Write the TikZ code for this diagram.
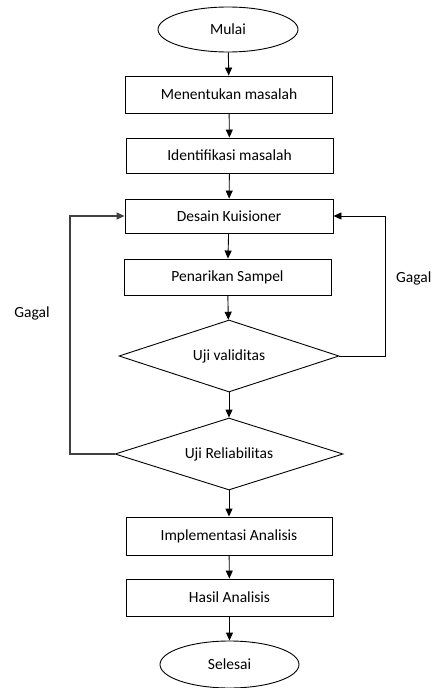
\documentclass[tikz,border=0pt]{standalone}
\usepackage{fontspec}
\setmainfont{Carlito}
\usetikzlibrary{shapes.geometric,arrows.meta}
\begin{document}
\begin{tikzpicture}[x=1pt,y=-1pt,
  font=\fontsize{15.5}{18}\selectfont,
  every node/.style={inner sep=0pt},
  procbox/.style={draw,line width=0.9pt,rectangle,minimum width=207pt},
  termbox/.style={draw,line width=0.9pt,ellipse,minimum width=140pt,minimum height=45pt},
  decbox/.style={draw,line width=0.9pt,diamond,shape aspect=3,minimum width=224pt,minimum height=72pt},
  flow/.style={line width=0.9pt,-{Triangle[length=8pt,width=7pt]}},
  loopline/.style={line width=1.1pt,draw=black!75,-{Triangle[length=8pt,width=7pt]}}]
\useasboundingbox (0,0) rectangle (432,688);
\node[termbox] (mulai) at (228,29.5) {Mulai};
\node[procbox,minimum height=37pt] (b1) at (229,94.5) {Menentukan masalah};
\node[procbox,minimum height=35pt] (b2) at (229.5,155.5) {Identifikasi masalah};
\node[procbox,minimum height=34pt,minimum width=208pt] (b3) at (229,216) {Desain Kuisioner};
\node[procbox,minimum height=36pt] (b4) at (227.5,277) {Penarikan Sampel};
\node[decbox,minimum width=220pt] (d1) at (229,356) {Uji validitas};
\node[decbox,minimum width=228pt] (d2) at (229,454) {Uji Reliabilitas};
\node[procbox,minimum height=38pt,minimum width=206pt] (b5) at (229,536) {Implementasi Analisis};
\node[procbox,minimum height=37pt] (b6) at (229.5,597.5) {Hasil Analisis};
\node[termbox,minimum width=139pt,minimum height=47pt] (selesai) at (229.5,664.5) {Selesai};
\node (gl) at (32,313) {Gagal};
\node[anchor=west] (gr) at (396,278) {Gagal};
\coordinate (lc1) at (70,454);
\coordinate (lc2) at (70,216);
\coordinate (rc1) at (385,356);
\coordinate (rc2) at (385,216);
\draw[flow] (mulai) -- (b1);
\draw[flow] (b1) -- (b2);
\draw[flow] (b2) -- (b3);
\draw[flow] (b3) -- (b4);
\draw[flow] (b4) -- (d1);
\draw[flow] (d1) -- (d2);
\draw[flow] (d2) -- (b5);
\draw[flow] (b5) -- (b6);
\draw[flow] (b6) -- (selesai);
\draw[loopline] (d2.west) -- (lc1) -- (lc2) -- (b3.west);
\draw[flow] (d1.east) -- (rc1) -- (rc2) -- (b3.east);
\end{tikzpicture}
\end{document}
